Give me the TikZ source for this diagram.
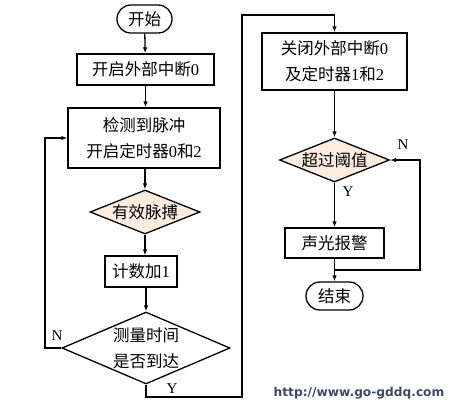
\documentclass[tikz,border=0pt]{standalone}
\usepackage{fontspec}
\setmainfont{Liberation Serif}
\newfontfamily\cjk{Noto Sans CJK SC}
\newfontfamily\urlfont{DejaVu Sans}
\usetikzlibrary{shapes.geometric,arrows.meta}
\definecolor{urlc}{RGB}{60,72,110}
\definecolor{peach}{RGB}{252,236,224}
\tikzset{
  x=1pt,y=-1pt,
  base/.style={draw, line width=1.3pt, inner sep=0pt, align=center,
    font=\fontsize{16.5}{26}\selectfont},
  proc/.style={base, rectangle},
  term/.style={base, rectangle, rounded corners=13.9pt},
  dec/.style={base, diamond, aspect=2.4},
  conn/.style={line width=1.3pt, -{Latex[length=6pt,width=4.5pt]}},
  lbl/.style={font=\fontsize{15}{15}\selectfont, inner sep=0pt}
}
\begin{document}
\begin{tikzpicture}
\useasboundingbox (0,0) rectangle (453,408);
% left column
\node[term, minimum width=55pt, minimum height=28pt] (start) at (144.5,19) {\cjk 开始};
\node[proc, minimum width=137pt, minimum height=31pt] (b1) at (145.5,69.5) {{\cjk 开启外部中断}0};
\node[proc, minimum width=152pt, minimum height=60pt] (b2) at (144,138) {{\cjk 检测到脉冲}\\{\cjk 开启定时器}0{\cjk 和}2};
\node[dec, fill=peach, minimum width=110pt, minimum height=44pt] (d1) at (145,212) {\cjk 有效脉搏};
\node[proc, minimum width=72pt, minimum height=31pt] (b3) at (141,271.5) {{\cjk 计数加}1};
\node[dec, fill=white, minimum width=168pt, minimum height=72pt] (d2) at (146,348) {{\cjk 测量时间}\\{\cjk 是否到达}};
% right column
\node[proc, minimum width=145pt, minimum height=57pt] (b4) at (334.5,61.5) {{\cjk 关闭外部中断}0\\{\cjk 及定时器}1{\cjk 和}2};
\node[dec, fill=peach, minimum width=110pt, minimum height=44pt] (d3) at (334.5,160) {\cjk 超过阈值};
\node[proc, minimum width=99pt, minimum height=30pt] (b5) at (334.5,243) {\cjk 声光报警};
\node[term, minimum width=57pt, minimum height=28pt] (end) at (334.5,296) {\cjk 结束};
% helper coordinates
\coordinate (fl) at (45,348);
\coordinate (rb) at (242,397);
\coordinate (rt) at (242,15);
\coordinate (j) at (334.5,270);
\coordinate (rr) at (420,270);
% connectors
\draw[conn] (start) -- (b1);
\draw[conn] (b1) -- (b1 |- b2.north);
\draw[conn] (b2.south -| d1.north) -- (d1.north);
\draw[conn] (d1.south) -- (d1.south |- b3.north);
\draw[conn] (b3.south -| d2.north) -- (d2.north);
\draw[conn] (d2.west) -- (fl) |- (b2.west);
\draw[conn] (d2.south) |- (rb) |- (b4.north |- rt) -- (b4.north);
\draw[conn] (b4) -- (d3);
\draw[conn] (d3) -- (b5);
\draw[conn] (b5) -- (end);
\draw[conn] (j) -- (rr) |- (d3.east);
% labels
\node[lbl] (nl) at (57,336) {N};
\node[lbl] (yl) at (172,389) {Y};
\node[lbl] (yr) at (348,192) {Y};
\node[lbl] (nr) at (403,145) {N};
\node[font=\urlfont\bfseries\fontsize{12.2}{12.2}\selectfont, text=urlc, inner sep=0pt] (url) at (359,393) {http://www.go-gddq.com};
\end{tikzpicture}
\end{document}
